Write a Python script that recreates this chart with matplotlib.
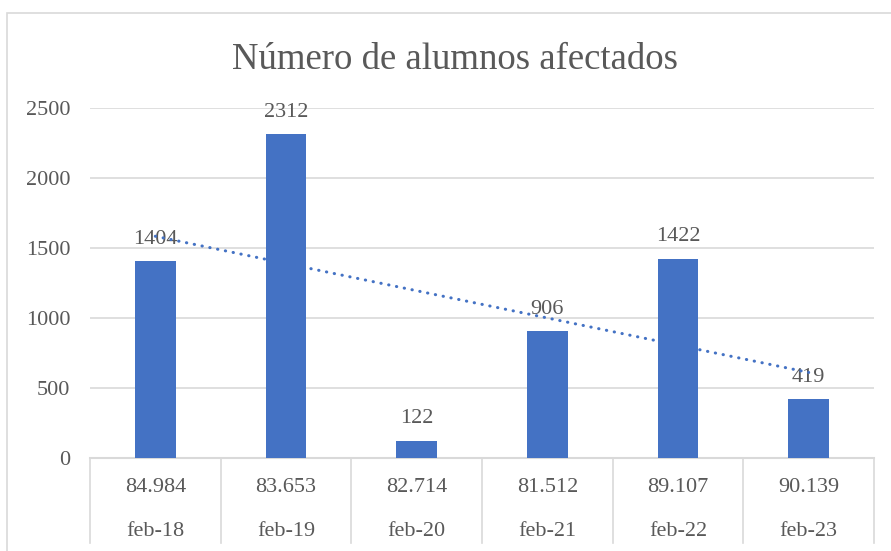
import matplotlib.pyplot as plt
import numpy as np
from matplotlib.patches import Rectangle

# Data
fechas = ["feb-18", "feb-19", "feb-20", "feb-21", "feb-22", "feb-23"]
totales = ["84.984", "83.653", "82.714", "81.512", "89.107", "90.139"]
afectados = [1404, 2312, 122, 906, 1422, 419]

plt.rcParams['font.family'] = ['Liberation Serif', 'DejaVu Serif']
gris = "#595959"
linea = "#D9D9D9"
azul = "#4472C4"

fig = plt.figure(figsize=(8.91, 5.51), dpi=100)
ax = fig.add_axes([90 / 891, 93 / 551, 784 / 891, 350 / 551])

x = np.arange(len(afectados))
ax.bar(x, afectados, width=0.31, color=azul, zorder=3)

# linear trend line (drawn behind the bars)
m, b = np.polyfit(x, afectados, 1)
ax.plot(x, m * x + b, color=azul, lw=2.2, linestyle=(0, (0.1, 2.5)),
        dash_capstyle='round', zorder=2)

for xi, v in zip(x, afectados):
    ax.annotate(str(v), (xi, v), xytext=(0, 9), textcoords='offset points',
                ha='center', va='bottom', fontsize=16, color=gris, zorder=1.5)

ax.set_xlim(-0.5, len(afectados) - 0.5)
ax.set_ylim(0, 2500)
ax.set_yticks(range(0, 2501, 500))
ax.yaxis.grid(True, color=linea, lw=1.2, zorder=0)
ax.set_axisbelow(True)
for s in ax.spines.values():
    s.set_visible(False)
ax.tick_params(axis='y', length=0, pad=14, labelsize=16, labelcolor=gris)
ax.set_xticks([])

# two-level category table
tr = ax.get_xaxis_transform()
ax.plot([-0.5, 5.5], [0, 0], color=linea, lw=1.5, transform=tr, clip_on=False)
for xb in np.arange(-0.5, 6, 1):
    ax.plot([xb, xb], [0, -0.243], color=linea, lw=1.2, transform=tr, clip_on=False)
for xi, t, f in zip(x, totales, fechas):
    ax.text(xi, -0.085, t, transform=tr, ha='center', va='center', fontsize=16, color=gris)
    ax.text(xi, -0.21, f, transform=tr, ha='center', va='center', fontsize=16, color=gris)

fig.text(455 / 891, 1 - 60 / 551, "Número de alumnos afectados", ha='center', va='center',
         fontsize=26.5, color=gris)

# chart border
fig.patches.append(Rectangle((7 / 891, -0.05), 1.1, 1 - 13 / 551 + 0.05, transform=fig.transFigure,
                             fill=False, edgecolor=linea, lw=1.2))

fig.savefig("out.png", dpi=100, facecolor='white')
